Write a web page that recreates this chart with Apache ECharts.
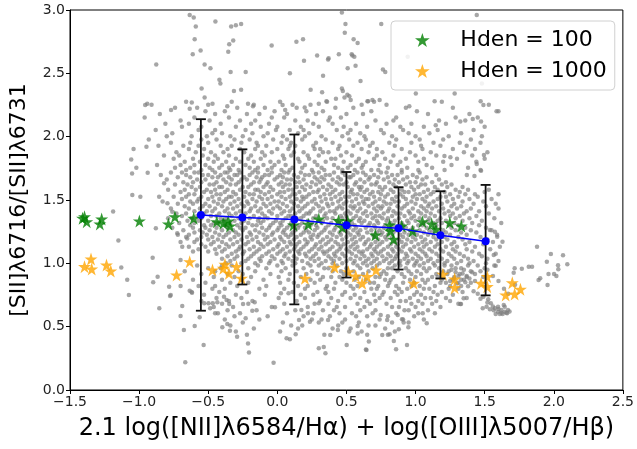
<!DOCTYPE html>
<html>
<head>
<meta charset="utf-8">
<script src="https://cdn.jsdelivr.net/npm/echarts@6/dist/echarts.min.js"></script>
<style>html,body{margin:0;padding:0;background:#fff;}#c{width:637px;height:449px;}</style>
</head>
<body>
<div id="c"></div>
<script>
// ---- data ----
const xTicks = [-1.5, -1.0, -0.5, 0.0, 0.5, 1.0, 1.5, 2.0, 2.5];
const yTicks = [0.0, 0.5, 1.0, 1.5, 2.0, 2.5, 3.0];

const binX    = [-0.553, -0.253, 0.123, 0.500, 0.877, 1.180, 1.507];
const binMean = [1.381, 1.362, 1.347, 1.300, 1.276, 1.221, 1.174];
const binLow  = [0.626, 0.833, 0.676, 0.888, 0.951, 0.880, 0.747];
const binHigh = [2.138, 1.900, 2.017, 1.721, 1.601, 1.569, 1.619];

const hden100 = [[-1.409,1.356],[-1.395,1.368],[-1.379,1.329],[-1.284,1.311],[-1.271,1.35],[-0.998,1.334],[-0.788,1.311],[-0.741,1.368],[-0.605,1.356],[-0.438,1.329],[-0.391,1.316],[-0.343,1.295],[-0.355,1.334],[0.117,1.303],[0.224,1.308],[0.3,1.35],[0.443,1.337],[0.471,1.284],[0.509,1.334],[0.709,1.224],[0.812,1.303],[0.841,1.19],[0.9,1.295],[0.817,1.255],[0.979,1.255],[1.05,1.329],[1.117,1.311],[1.148,1.268],[1.248,1.321],[1.331,1.295]];

const hden1000 = [[-1.395,0.974],[-1.348,1.034],[-1.343,0.955],[-1.236,0.987],[-1.205,0.939],[-0.729,0.908],[-0.634,1.013],[-0.469,0.947],[-0.391,0.961],[-0.379,0.992],[-0.35,0.921],[-0.295,0.974],[-0.259,0.882],[0.2,0.882],[0.414,0.969],[0.514,0.934],[0.567,0.9],[0.614,0.842],[0.65,0.895],[0.714,0.947],[0.986,0.842],[1.198,0.913],[1.283,0.876],[1.283,0.808],[1.474,0.842],[1.519,0.895],[1.519,0.816],[1.652,0.75],[1.7,0.847],[1.717,0.758],[1.759,0.795]];

// gray sample cloud, rows of [y, [x ...]]
const grayRows = [
[2.275,[-0.66,-0.33,0.02,0.36,0.7,1.19]],
[2.252,[-0.91,-0.5,-0.17,0.11,0.24,0.61,0.79,1.53]],
[2.228,[-0.74,-0.58,-0.29,-0.09,0.14,0.42,0.55,0.93,1.27]],
[2.201,[-0.52,-0.38,-0.02,0.21,0.33,0.68,1.01,1.6]],
[2.178,[-0.85,-0.45,-0.22,-0.13,0.07,0.28,0.5,0.62,1.09,1.39]],
[2.152,[-0.96,-0.6,-0.35,-0.04,0.05,0.38,0.46,0.86,1.29,1.45]],
[2.127,[-0.7,-0.49,-0.27,-0.16,0.13,0.22,0.37,0.71,0.84,1.17,1.36]],
[2.101,[-0.81,-0.64,-0.41,-0.19,-0.06,0.26,0.4,0.57,0.79,0.97,1.22]],
[2.078,[-0.69,-0.55,-0.3,-0.12,0.0,0.17,0.3,0.48,0.65,0.89,1.06,1.5]],
[2.052,[-0.88,-0.57,-0.45,-0.23,-0.01,0.09,0.19,0.43,0.53,0.75,0.91,1.16,1.42]],
[2.026,[-0.76,-0.47,-0.4,-0.18,-0.07,0.15,0.23,0.51,0.6,0.77,0.95,1.1,1.33]],
[2.003,[-0.8,-0.62,-0.51,-0.34,-0.25,-0.1,0.04,0.2,0.32,0.47,0.63,0.83,1.0,1.24,1.48]],
[1.977,[-0.93,-0.55,-0.44,-0.31,-0.2,-0.03,0.07,0.18,0.35,0.52,0.64,0.86,1.03,1.2,1.4]],
[1.951,[-0.77,-0.63,-0.5,-0.26,-0.15,0.03,0.1,0.28,0.4,0.58,0.69,0.81,0.97,1.13,1.32,1.47]],
[1.928,[-0.86,-0.68,-0.57,-0.41,-0.33,-0.14,-0.08,0.09,0.13,0.26,0.45,0.55,0.67,0.85,1.04,1.18,1.37]],
[1.903,[-1.04,-0.64,-0.53,-0.36,-0.27,-0.16,0.0,0.08,0.27,0.31,0.44,0.61,0.72,0.9,1.05,1.27,1.43]],
[1.877,[-0.73,-0.59,-0.48,-0.39,-0.24,-0.11,-0.04,0.12,0.19,0.33,0.37,0.5,0.66,0.76,0.96,1.11,1.35,1.52]],
[1.851,[-0.82,-0.71,-0.54,-0.45,-0.35,-0.19,-0.09,0.04,0.1,0.22,0.3,0.46,0.54,0.72,0.84,1.0,1.15,1.41]],
[1.826,[-0.75,-0.61,-0.5,-0.43,-0.3,-0.21,-0.12,0.05,0.15,0.23,0.39,0.42,0.59,0.7,0.78,0.93,1.06,1.3,1.5]],
[1.801,[-0.67,-0.56,-0.46,-0.37,-0.27,-0.17,-0.05,0.01,0.16,0.27,0.35,0.48,0.57,0.64,0.82,0.89,1.02,1.2,1.44]],
[1.776,[-0.87,-0.7,-0.6,-0.52,-0.4,-0.32,-0.23,-0.1,-0.02,0.06,0.2,0.29,0.41,0.53,0.62,0.74,0.87,1.08,1.26]],
[1.755,[-1.02,-0.74,-0.63,-0.49,-0.42,-0.35,-0.2,-0.14,-0.04,0.11,0.18,0.32,0.44,0.51,0.61,0.8,0.94,1.12,1.38]],
[1.737,[-0.66,-0.55,-0.47,-0.34,-0.28,-0.16,-0.07,0.03,0.09,0.25,0.34,0.47,0.56,0.68,0.73,0.9,1.02,1.21,1.47]],
[1.718,[-0.77,-0.69,-0.6,-0.57,-0.45,-0.38,-0.36,-0.27,-0.18,-0.14,-0.04,0.05,0.08,0.17,0.26,0.3,0.41,0.47,0.58,0.62,0.75,0.79,0.9,1.03]],
[1.697,[-0.66,-0.54,-0.5,-0.41,-0.31,-0.29,-0.2,-0.09,-0.06,0.02,0.12,0.2,0.23,0.35,0.38,0.49,0.55,0.64,0.7,0.83,0.87,0.98,1.15]],
[1.679,[-0.72,-0.63,-0.47,-0.43,-0.35,-0.24,-0.15,-0.11,0.0,0.04,0.15,0.27,0.32,0.44,0.52,0.53,0.67,0.73,0.8,0.94,1.01,1.08]],
[1.661,[-0.8,-0.58,-0.52,-0.39,-0.33,-0.26,-0.22,-0.12,-0.02,0.07,0.1,0.19,0.29,0.34,0.4,0.46,0.6,0.66,0.77,0.85,0.91,1.05,1.17]],
[1.64,[-0.68,-0.61,-0.55,-0.44,-0.37,-0.28,-0.17,-0.13,-0.07,0.03,0.13,0.16,0.25,0.31,0.43,0.5,0.57,0.63,0.72,0.81,0.88,0.96,1.0,1.12,1.22]],
[1.622,[-0.74,-0.65,-0.49,-0.46,-0.34,-0.3,-0.19,-0.08,0.01,0.06,0.09,0.21,0.28,0.37,0.45,0.48,0.56,0.68,0.71,0.84,0.93,1.04,1.07,1.19,1.26]],
[1.603,[-0.62,-0.56,-0.42,-0.4,-0.25,-0.21,-0.1,-0.05,0.04,0.14,0.18,0.24,0.33,0.39,0.51,0.59,0.61,0.74,0.78,0.86,0.97,1.02,1.14,1.23,1.34]],
[1.581,[-0.79,-0.67,-0.59,-0.51,-0.45,-0.36,-0.27,-0.16,-0.14,-0.03,0.08,0.11,0.2,0.3,0.36,0.42,0.54,0.6,0.65,0.76,0.82,0.9,0.99,1.09,1.16,1.29,1.38,1.53]],
[1.564,[-0.7,-0.53,-0.48,-0.38,-0.32,-0.23,-0.12,-0.06,0.02,0.05,0.16,0.26,0.29,0.4,0.47,0.53,0.63,0.69,0.73,0.84,0.92,0.95,1.06,1.13,1.21,1.32,1.5]],
[1.545,[-0.64,-0.6,-0.44,-0.41,-0.3,-0.2,-0.17,-0.09,0.0,0.11,0.13,0.23,0.34,0.38,0.45,0.55,0.58,0.67,0.75,0.8,0.89,1.0,1.03,1.11,1.25,1.36,1.43,1.6]],
[1.526,[-0.75,-0.66,-0.55,-0.47,-0.35,-0.33,-0.24,-0.13,-0.04,0.03,0.09,0.18,0.21,0.31,0.42,0.49,0.52,0.61,0.7,0.78,0.86,0.91,0.98,1.08,1.18,1.22,1.31,1.45]],
[1.507,[-0.69,-0.57,-0.5,-0.42,-0.37,-0.28,-0.18,-0.11,-0.07,0.06,0.14,0.19,0.27,0.35,0.39,0.46,0.57,0.64,0.66,0.74,0.83,0.93,1.01,1.05,1.16,1.27,1.39,1.55]],
[1.489,[-0.83,-0.63,-0.58,-0.46,-0.39,-0.31,-0.22,-0.15,-0.02,0.01,0.1,0.17,0.25,0.32,0.44,0.5,0.54,0.62,0.71,0.77,0.85,0.88,0.97,1.07,1.13,1.23,1.34,1.49]],
[1.47,[-0.72,-0.61,-0.52,-0.43,-0.34,-0.26,-0.21,-0.1,-0.05,0.04,0.12,0.22,0.28,0.36,0.4,0.48,0.59,0.63,0.69,0.79,0.82,0.94,1.0,1.1,1.19,1.28,1.42,1.58]],
[1.451,[-0.67,-0.54,-0.49,-0.4,-0.29,-0.24,-0.16,-0.08,0.0,0.07,0.15,0.2,0.3,0.37,0.45,0.53,0.56,0.66,0.73,0.76,0.87,0.92,1.04,1.09,1.15,1.26,1.33,1.51]],
[1.433,[-0.77,-0.64,-0.56,-0.45,-0.36,-0.32,-0.19,-0.12,-0.03,0.02,0.11,0.18,0.26,0.33,0.43,0.47,0.55,0.6,0.7,0.75,0.81,0.9,0.98,1.06,1.12,1.2,1.3,1.4,1.6]],
[1.412,[-0.6,-0.51,-0.47,-0.38,-0.27,-0.2,-0.14,-0.06,0.05,0.09,0.16,0.24,0.31,0.38,0.41,0.51,0.58,0.64,0.72,0.8,0.84,0.95,1.02,1.08,1.17,1.24,1.37,1.46]],
[1.394,[-0.73,-0.66,-0.53,-0.42,-0.35,-0.3,-0.23,-0.11,-0.04,0.03,0.13,0.21,0.23,0.35,0.42,0.49,0.53,0.62,0.68,0.77,0.86,0.89,0.96,1.04,1.11,1.21,1.27,1.35,1.53]],
[1.373,[-0.69,-0.58,-0.48,-0.44,-0.33,-0.25,-0.17,-0.09,0.0,0.08,0.1,0.19,0.28,0.34,0.46,0.5,0.57,0.65,0.71,0.74,0.83,0.92,0.99,1.07,1.14,1.25,1.32,1.44]],
[1.356,[-0.79,-0.62,-0.55,-0.41,-0.37,-0.28,-0.2,-0.13,-0.07,0.06,0.14,0.17,0.26,0.36,0.4,0.47,0.55,0.6,0.69,0.76,0.8,0.88,0.97,1.03,1.1,1.18,1.29,1.39,1.57]],
[1.337,[-0.65,-0.57,-0.5,-0.39,-0.31,-0.24,-0.14,-0.1,-0.01,0.04,0.12,0.22,0.3,0.33,0.43,0.52,0.59,0.63,0.72,0.79,0.85,0.94,1.0,1.09,1.16,1.22,1.34,1.48]],
[1.318,[-0.71,-0.6,-0.46,-0.43,-0.34,-0.26,-0.21,-0.12,-0.03,0.02,0.1,0.18,0.25,0.32,0.39,0.45,0.54,0.61,0.67,0.73,0.82,0.9,0.95,1.06,1.13,1.19,1.28,1.41,1.62]],
[1.3,[-0.63,-0.53,-0.48,-0.38,-0.29,-0.18,-0.15,-0.05,0.03,0.09,0.16,0.24,0.28,0.37,0.44,0.49,0.56,0.66,0.7,0.78,0.84,0.91,1.02,1.05,1.15,1.24,1.31,1.46]],
[1.281,[-0.76,-0.61,-0.52,-0.44,-0.36,-0.27,-0.23,-0.11,-0.06,0.01,0.07,0.15,0.2,0.29,0.35,0.42,0.52,0.57,0.64,0.71,0.77,0.87,0.93,0.98,1.08,1.14,1.26,1.36,1.51]],
[1.262,[-0.68,-0.56,-0.49,-0.4,-0.32,-0.25,-0.16,-0.08,0.0,0.05,0.13,0.21,0.27,0.34,0.41,0.48,0.55,0.6,0.68,0.74,0.81,0.86,0.96,1.03,1.1,1.2,1.29,1.4,1.55]],
[1.244,[-0.6,-0.54,-0.45,-0.35,-0.3,-0.2,-0.13,-0.03,0.04,0.11,0.19,0.23,0.32,0.38,0.45,0.51,0.58,0.65,0.72,0.76,0.84,0.92,0.99,1.06,1.12,1.22,1.33,1.44]],
[1.225,[-0.72,-0.64,-0.51,-0.42,-0.37,-0.28,-0.19,-0.1,-0.04,0.06,0.1,0.17,0.26,0.3,0.4,0.46,0.53,0.59,0.69,0.75,0.8,0.89,0.95,1.01,1.09,1.17,1.25,1.37,1.59]],
[1.207,[-0.66,-0.55,-0.47,-0.39,-0.31,-0.22,-0.15,-0.07,0.02,0.08,0.14,0.24,0.29,0.36,0.43,0.5,0.56,0.62,0.7,0.78,0.83,0.91,0.98,1.04,1.13,1.21,1.31,1.47]],
[1.188,[-0.58,-0.5,-0.43,-0.34,-0.26,-0.18,-0.09,-0.02,0.03,0.12,0.2,0.25,0.33,0.39,0.47,0.54,0.6,0.66,0.73,0.79,0.88,0.94,1.0,1.07,1.15,1.23,1.34,1.52]],
[1.169,[-0.7,-0.6,-0.46,-0.4,-0.29,-0.21,-0.14,-0.05,0.05,0.09,0.16,0.22,0.31,0.37,0.42,0.51,0.57,0.64,0.71,0.76,0.85,0.9,0.97,1.05,1.11,1.19,1.28,1.39,1.56]],
[1.15,[-0.55,-0.48,-0.37,-0.32,-0.23,-0.12,-0.07,0.01,0.1,0.14,0.21,0.28,0.35,0.44,0.48,0.55,0.63,0.68,0.74,0.82,0.87,0.93,1.02,1.08,1.16,1.26,1.36,1.49]],
[1.131,[-0.64,-0.52,-0.42,-0.35,-0.27,-0.17,-0.1,0.0,0.07,0.13,0.19,0.27,0.32,0.4,0.46,0.53,0.58,0.67,0.72,0.8,0.86,0.91,0.99,1.06,1.14,1.22,1.3,1.43,1.61]],
[1.112,[-0.57,-0.45,-0.38,-0.28,-0.2,-0.13,-0.03,0.04,0.12,0.17,0.25,0.3,0.38,0.45,0.5,0.56,0.65,0.7,0.77,0.83,0.88,0.96,1.03,1.1,1.18,1.27,1.37,1.54]],
[1.094,[-0.61,-0.5,-0.4,-0.3,-0.24,-0.15,-0.06,0.02,0.09,0.15,0.23,0.33,0.36,0.43,0.52,0.59,0.62,0.71,0.75,0.84,0.9,0.97,1.05,1.12,1.2,1.29,1.41]],
[1.075,[-0.44,-0.33,-0.25,-0.17,-0.08,0.0,0.06,0.16,0.2,0.28,0.34,0.41,0.47,0.54,0.61,0.68,0.73,0.8,0.87,0.93,1.0,1.07,1.15,1.24,1.32,1.46,1.58]],
[1.056,[-0.36,-0.29,-0.19,-0.11,-0.04,0.05,0.12,0.21,0.26,0.37,0.42,0.49,0.57,0.63,0.69,0.76,0.82,0.86,0.94,1.02,1.08,1.17,1.26,1.35,1.48]],
[1.037,[-0.4,-0.31,-0.21,-0.13,-0.02,0.08,0.14,0.24,0.3,0.39,0.45,0.53,0.6,0.66,0.72,0.79,0.85,0.92,0.98,1.04,1.11,1.19,1.28,1.38,1.52]],
[1.018,[-0.34,-0.23,-0.12,-0.05,0.03,0.11,0.18,0.27,0.35,0.41,0.5,0.56,0.64,0.7,0.77,0.83,0.89,0.95,1.01,1.09,1.16,1.23,1.33,1.42,1.6]],
[1.0,[-0.37,-0.26,-0.16,-0.06,0.04,0.13,0.22,0.32,0.4,0.47,0.55,0.62,0.68,0.74,0.81,0.88,0.94,1.0,1.06,1.13,1.21,1.3,1.39,1.51]],
[0.982,[-0.58,-0.4,-0.33,-0.14,0.0,0.11,0.24,0.3,0.43,0.58,0.65,0.72,0.85,0.89,0.99,1.03,1.14,1.21,1.26,1.38,1.45,1.57]],
[0.961,[-0.5,-0.41,-0.21,-0.08,0.06,0.19,0.34,0.37,0.5,0.6,0.69,0.8,0.83,0.93,1.06,1.1,1.17,1.29,1.33,1.5]],
[0.938,[-0.67,-0.45,-0.28,-0.16,0.03,0.14,0.25,0.4,0.46,0.55,0.66,0.77,0.87,0.95,1.01,1.08,1.2,1.24,1.4,1.47]],
[0.916,[-0.55,-0.36,-0.25,-0.05,0.09,0.21,0.29,0.48,0.52,0.62,0.75,0.79,0.9,0.97,1.04,1.15,1.23,1.32,1.43]],
[0.893,[-0.46,-0.31,-0.19,0.01,0.17,0.33,0.39,0.45,0.59,0.71,0.74,0.84,0.92,1.0,1.12,1.16,1.28,1.37,1.49]],
[0.87,[-0.61,-0.4,-0.26,-0.1,0.08,0.24,0.31,0.47,0.56,0.64,0.78,0.82,0.96,1.05,1.09,1.19,1.27,1.35]],
[0.846,[-0.52,-0.34,-0.21,0.02,0.12,0.27,0.42,0.5,0.67,0.7,0.81,0.91,0.99,1.07,1.18,1.22,1.31,1.4]],
[0.822,[-0.57,-0.45,-0.29,-0.08,0.15,0.22,0.36,0.53,0.58,0.73,0.8,0.86,0.97,1.03,1.14,1.25,1.33]],
[0.799,[-0.47,-0.38,-0.13,0.05,0.2,0.35,0.41,0.55,0.68,0.72,0.88,0.94,1.06,1.1,1.24,1.31]],
[0.774,[-0.62,-0.42,-0.22,0.11,0.29,0.37,0.49,0.63,0.77,0.85,0.9,1.01,1.13,1.19,1.34]],
[0.752,[-0.53,-0.3,-0.09,0.17,0.26,0.47,0.56,0.7,0.76,0.87,0.99,1.04,1.16,1.27]],
[0.727,[-0.44,-0.26,0.01,0.2,0.39,0.53,0.6,0.74,0.82,0.96,1.07,1.11,1.22,1.37]],
[0.703,[-0.55,-0.35,-0.18,0.14,0.31,0.44,0.65,0.71,0.89,0.93,1.02,1.15,1.25]],
[0.68,[-0.4,-0.21,0.05,0.27,0.37,0.58,0.67,0.79,0.97,1.05,1.12,1.31]],
[0.656,[-0.46,-0.32,-0.04,0.22,0.43,0.49,0.63,0.83,0.88,1.0,1.18]],
[0.63,[-0.36,-0.15,0.13,0.33,0.41,0.6,0.71,0.92,0.95,1.09]],
[0.606,[-0.43,-0.27,0.07,0.26,0.45,0.54,0.69,0.86,1.02,1.14]],
[0.582,[-0.31,-0.07,0.19,0.38,0.57,0.65,0.8,0.99]],
[0.557,[-0.38,-0.13,0.25,0.32,0.49,0.74,0.91,1.06]],
[0.533,[-0.25,0.04,0.3,0.47,0.59,0.83,0.95]],
[0.509,[-0.34,0.1,0.18,0.44,0.66,0.71]],
[0.486,[-0.17,0.15,0.4,0.53,0.78]],
[0.461,[-0.3,0.02,0.52,0.61,0.85]],
[0.437,[-0.22,0.34,0.65,0.8]]
];

// individually read scattered points (outliers, tail, right group)
const grayExtra = [
[-0.634,2.96],[-0.605,2.94],[-0.59,2.87],[-0.448,2.91],[-0.334,2.87],[-0.3,2.88],[-0.262,2.89],[-0.598,2.77],[-0.319,2.76],[-0.348,2.73],[-0.555,2.68],[-0.612,2.65],[-0.355,2.67],[-0.041,2.72],[0.138,2.75],[0.186,2.77],[0.467,2.98],[0.493,2.89],[0.488,2.82],[0.552,2.77],[0.581,2.74],[0.288,2.64],[0.367,2.61],[0.445,2.65],[0.538,2.65],[0.557,2.63],[-0.876,2.57],[-0.526,2.57],[-0.484,2.54],[0.193,2.6],[0.509,2.54],[0.566,2.56],[-0.338,2.51],[-0.229,2.51],[0.091,2.5],[0.331,2.48],[0.602,2.44],[-0.419,2.45],[-0.412,2.42],[-0.548,2.38],[-0.314,2.36],[-0.262,2.37],[0.241,2.37],[0.324,2.35],[0.467,2.38],[0.474,2.36],[-0.526,2.31],[-0.212,2.26],[-0.176,2.24],[0.038,2.25],[0.198,2.23],[0.3,2.26],[0.355,2.28],[0.424,2.3],[0.486,2.31],[0.521,2.32],[0.657,2.28],[-0.941,2.26],[-0.619,2.27],[-0.634,2.22],[-0.769,2.21],[-0.469,2.26],[-0.362,2.24],[0.057,2.21],[1.443,2.96],[0.752,2.89],[0.543,2.64],[0.764,2.53],[0.781,2.51],[0.371,2.62],[0.943,2.63],[0.507,2.33],[0.531,2.29],[0.652,2.28],[0.688,2.29],[0.74,2.29],[1.002,2.34],[0.955,2.24],[1.138,2.28],[1.283,2.34],[1.471,2.28],[1.491,2.25],[1.586,2.2],[1.324,2.12],[1.414,2.14],[1.474,2.12],[1.146,2.09],[1.457,2.73],[1.48,2.42],
[-0.956,2.25],[-0.947,1.92],[-1.057,1.82],[-1.051,1.71],[-1.049,1.54],[-1.188,1.41],[-1.15,1.18],[-1.086,0.87],[-1.074,0.75],[-0.854,0.645],[-1.129,0.968],[-0.902,1.045],[-0.879,1.276],[-0.991,1.526],[-0.938,1.716],[-0.843,1.697],[-0.819,1.632],[-0.855,1.526],[-0.795,1.474],[-0.76,1.408],[-0.724,1.237],[-0.866,0.895],[-0.783,0.816],[-0.771,0.75],[-0.7,1.026],[-0.688,1.13],[-0.652,1.197],
[-0.666,0.22],[-0.027,0.215],[0.336,0.34],[0.641,0.32],[-0.898,0.85],[-0.776,0.742],[-0.7,0.821],[-0.688,0.663],[-0.7,0.584],[-0.676,0.474],[-0.634,0.784],[-0.617,0.768],[-0.598,0.505],[-0.562,0.574],[-0.533,0.355],[-0.529,0.684],[-0.498,0.684],[-0.467,0.684],[-0.434,0.692],[-0.486,0.645],[-0.45,0.605],[-0.398,0.495],[-0.362,0.521],[-0.343,0.468],[-0.291,0.421],[-0.212,0.368],[-0.205,0.297],[-0.229,0.566],[-0.181,0.626],[-0.164,0.692],[-0.248,0.679],[-0.348,0.679],[-0.386,0.737],[-0.367,0.711],[-0.017,0.653],[0.067,0.408],[0.091,0.4],[0.133,0.44],[0.157,0.553],[0.174,0.632],[0.221,0.605],[0.236,0.539],[0.3,0.329],[0.348,0.29],[0.3,0.684],[0.367,0.553],[0.026,0.763],[0.081,0.763],
[0.383,0.434],[0.438,0.474],[0.502,0.355],[0.581,0.505],[0.581,0.447],[0.645,0.316],[0.662,0.382],[0.748,0.592],[0.759,0.434],[0.795,0.553],[0.812,0.44],[0.843,0.387],[0.859,0.321],[0.871,0.592],[0.879,0.479],[0.902,0.558],[0.914,0.532],[0.938,0.355],[0.948,0.495],[1.052,0.605],[1.081,0.526],[1.329,0.679],
[1.514,0.658],[1.538,0.637],[1.565,0.63],[1.597,0.618],[1.621,0.61],[1.645,0.618],[1.662,0.605],[1.669,0.632],[1.645,0.658],[1.486,0.645],[1.324,0.679],[1.348,0.724],[1.574,0.645],[1.621,0.632],[1.657,0.61],[1.638,0.671],[1.597,0.658],[1.545,0.684],[1.526,0.716],[1.491,0.737],[1.42,0.78],[1.45,0.76],[1.47,0.72],[1.56,0.66],[1.6,0.64],[1.63,0.6],[1.68,0.62],[1.61,0.6],[1.58,0.6],[1.52,0.69],
[1.26,0.95],[1.29,0.93],[1.31,0.9],[1.34,0.92],[1.37,0.9],[1.33,0.87],[1.36,0.85],[1.3,0.84],[1.39,0.88],[1.28,0.88],[1.41,0.93],[1.35,0.95],[1.43,0.86],[1.25,0.86],[1.38,0.82],
[1.879,1.131],[1.979,1.074],[2.067,1.063],[2.098,0.992],[2.031,0.984],[2.033,0.953],[2.002,0.916],[2.019,0.9],[1.962,0.916],[1.955,0.829],[1.902,0.882],[1.95,1.013],[1.819,0.974],[1.843,0.974],[1.769,0.958],[1.717,0.961],[1.71,0.926],[1.629,1.171],[1.566,1.066],[1.591,1.21],[1.574,1.25],[1.538,1.263],[1.89,0.868],
[1.56,0.9],[1.6,0.86],[1.64,0.8],[1.52,0.95],[1.58,0.98],[1.67,0.76],[1.72,0.83],
[1.495,1.855],[1.474,1.731],[1.443,1.784],[1.371,1.697],[1.426,1.689],[1.209,1.847],[1.252,1.837]
];

const xTitle = '2.1 log([NII]\u03BB6584/H\u03B1) + log([OIII]\u03BB5007/H\u03B2)';
const yTitle = '[SII]\u03BB6716/[SII]\u03BB6731';
const legendNames = ['Hden = 100', 'Hden = 1000'];

// ---- chart ----
const grayPoints = grayRows.flatMap(r => r[1].map(x => [x, r[0]])).concat(grayExtra);
const meanData = binX.map((x, i) => [x, binMean[i]]);
const errData = binX.map((x, i) => [x, binLow[i], binHigh[i]]);
const STAR = 'path://M100,0 L122.45,69.1 L195.1,69.1 L136.3,111.8 L158.8,180.9 L100,138.2 L41.2,180.9 L63.7,111.8 L4.9,69.1 L77.55,69.1 Z';
const FONT = 'DejaVu Sans';
const fmt = v => {
  const s = Number(v).toFixed(1);
  return s.charAt(0) === '-' ? '\u2212' + s.slice(1) : s;
};

const chart = echarts.init(document.getElementById('c'), null, {renderer: 'canvas'});
chart.setOption({
  animation: false,
  backgroundColor: '#fff',
  textStyle: {fontFamily: FONT},
  grid: {left: 68, right: 10, top: 10, bottom: 59, show: true, borderColor: '#000', borderWidth: 1, backgroundColor: 'transparent'},
  xAxis: {
    type: 'value', min: xTicks[0], max: xTicks[xTicks.length - 1], interval: 0.5,
    name: xTitle, nameLocation: 'middle', nameGap: 27,
    nameTextStyle: {fontFamily: FONT, fontSize: 24, color: '#000'},
    axisLine: {onZero: false, lineStyle: {color: '#000', width: 1}},
    axisTick: {show: true, inside: false, length: 4, lineStyle: {color: '#000'}},
    axisLabel: {formatter: fmt, fontFamily: FONT, fontSize: 14, color: '#222', margin: 5},
    splitLine: {show: false}
  },
  yAxis: {
    type: 'value', min: yTicks[0], max: yTicks[yTicks.length - 1], interval: 0.5,
    name: yTitle, nameLocation: 'middle', nameGap: 40,
    nameTextStyle: {fontFamily: FONT, fontSize: 22, color: '#000'},
    axisLine: {onZero: false, lineStyle: {color: '#000', width: 1}},
    axisTick: {show: true, inside: false, length: 4, lineStyle: {color: '#000'}},
    axisLabel: {formatter: fmt, fontFamily: FONT, fontSize: 14, color: '#222', margin: 5},
    splitLine: {show: false}
  },
  legend: {
    data: legendNames.map(n => ({name: n, icon: STAR})),
    orient: 'vertical', left: 391, top: 21,
    itemWidth: 26, itemHeight: 14, itemGap: 7,
    padding: [7, 8, 7, 24],
    backgroundColor: 'rgba(255,255,255,0.85)', borderColor: '#d0d0d0', borderWidth: 1, borderRadius: 4,
    textStyle: {fontFamily: FONT, fontSize: 22, color: '#000', lineHeight: 24, padding: [0, 0, 0, 20]},
    selectedMode: false
  },
  series: [
    {type: 'scatter', name: 'all', data: grayPoints, symbol: 'circle', symbolSize: 4.5,
     itemStyle: {color: '#808080', opacity: 0.7}, silent: true, z: 1},
    {type: 'scatter', name: legendNames[0], data: hden100, symbol: STAR, symbolSize: 13,
     itemStyle: {color: 'green'}, z: 2},
    {type: 'scatter', name: legendNames[1], data: hden1000, symbol: STAR, symbolSize: 13,
     itemStyle: {color: 'orange'}, z: 2},
    {type: 'custom', name: 'err', data: errData, z: 3,
     renderItem: function (params, api) {
       const top = api.coord([api.value(0), api.value(2)]);
       const bot = api.coord([api.value(0), api.value(1)]);
       const st = {stroke: '#111', lineWidth: 1.8};
       return {type: 'group', children: [
         {type: 'line', shape: {x1: top[0], y1: top[1], x2: bot[0], y2: bot[1]}, style: st},
         {type: 'line', shape: {x1: top[0] - 5, y1: top[1], x2: top[0] + 5, y2: top[1]}, style: st},
         {type: 'line', shape: {x1: bot[0] - 5, y1: bot[1], x2: bot[0] + 5, y2: bot[1]}, style: st}
       ]};
     }},
    {type: 'line', name: 'mean', data: meanData, z: 4, symbol: 'circle', symbolSize: 8, showSymbol: true,
     lineStyle: {color: 'blue', width: 1.5}, itemStyle: {color: 'blue'}}
  ]
});
</script>
</body>
</html>
